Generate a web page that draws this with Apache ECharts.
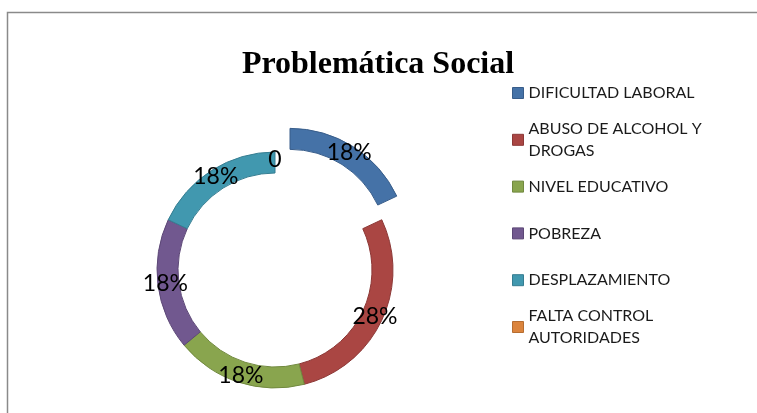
<!DOCTYPE html>
<html>
<head>
<meta charset="utf-8">
<script src="https://cdn.jsdelivr.net/npm/echarts@6/dist/echarts.min.js"></script>
<style>
  html, body { margin: 0; padding: 0; background: #fff; }
  #chart { width: 757px; height: 413px; }
</style>
</head>
<body>
<div id="chart"></div>
<script>
// data
var categories = ['DIFICULTAD LABORAL', 'ABUSO DE ALCOHOL Y DROGAS', 'NIVEL EDUCATIVO', 'POBREZA', 'DESPLAZAMIENTO', 'FALTA CONTROL AUTORIDADES'];
var legendLabels = ['DIFICULTAD LABORAL', 'ABUSO DE ALCOHOL Y\nDROGAS', 'NIVEL EDUCATIVO', 'POBREZA', 'DESPLAZAMIENTO', 'FALTA CONTROL\nAUTORIDADES'];
var values = [18, 28, 18, 18, 18, 0];

var colors = ['#4572A7', '#AA4643', '#89A54E', '#71588F', '#4198AF', '#DB843D'];
var borders = ['#385d8a', '#8c3836', '#71893f', '#5c4776', '#357d91', '#b66d31'];

var myChart = echarts.init(document.getElementById('chart'));

var legends = [];
for (var i = 0; i < categories.length; i++) {
  var twoLines = legendLabels[i].indexOf('\n') >= 0;
  var center = 93 + i * 46.8;
  legends.push({
    data: [{
      name: categories[i],
      itemStyle: { color: colors[i], borderColor: borders[i], borderWidth: 1 },
      textStyle: twoLines ? { padding: [22, 0, 0, 0] } : {}
    }],
    orient: 'vertical',
    left: 512,
    top: center - (twoLines ? 33 : 11),
    padding: 0,
    icon: 'rect',
    itemWidth: 11,
    itemHeight: 11,
    selectedMode: false,
    formatter: (function (lbl) { return function () { return lbl; }; })(legendLabels[i]),
    textStyle: { fontFamily: 'Lato', fontSize: 16, color: '#1a1a1a', lineHeight: 22 }
  });
}

var pieData = [];
for (var j = 0; j < categories.length; j++) {
  pieData.push({
    name: categories[j],
    value: values[j],
    selected: j === 0,
    itemStyle: { color: colors[j], borderColor: borders[j], borderWidth: values[j] === 0 ? 0 : 1 }
  });
}

myChart.setOption({
  animation: false,
  graphic: [{
    type: 'rect',
    shape: { x: 7.5, y: 12.5, width: 820, height: 500 },
    style: { fill: 'none', stroke: '#8a8a8a', lineWidth: 1.5 },
    silent: true
  }],
  title: {
    text: 'Problemática Social',
    left: 373,
    textAlign: 'center',
    top: 44,
    textStyle: { fontFamily: 'Liberation Serif', fontWeight: 'bold', fontSize: 32, color: '#000' }
  },
  legend: legends,
  series: [{
    type: 'pie',
    center: [275, 270],
    radius: [97, 118],
    startAngle: 90,
    selectedMode: 'single',
    selectedOffset: 28,
    emphasis: { disabled: true },
    label: {
      show: true,
      position: 'inside',
      color: '#000',
      fontFamily: 'Lato',
      fontSize: 23,
      formatter: function (p) {
        return p.value === 0 ? '0' : Math.round(p.percent) + '%';
      }
    },
    labelLine: { show: false },
    data: pieData
  }]
});
</script>
</body>
</html>
